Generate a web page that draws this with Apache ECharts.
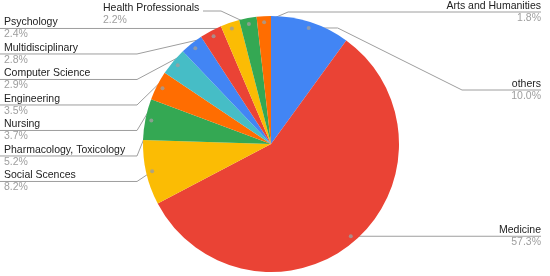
<!DOCTYPE html>
<html>
<head>
<meta charset="utf-8">
<script src="https://cdn.jsdelivr.net/npm/echarts@6/dist/echarts.min.js"></script>
<style>
  html, body { margin: 0; background: #fff; }
  #chart { width: 550px; height: 276px; }
</style>
</head>
<body>
<div id="chart"></div>
<script>
const categories = ['others', 'Medicine', 'Social Scences', 'Pharmacology, Toxicology', 'Nursing', 'Engineering',
  'Computer Science', 'Multidisciplinary', 'Psychology', 'Health Professionals', 'Arts and Humanities']
const shares = [10.0, 57.3, 8.2, 5.2, 3.7, 3.5, 2.9, 2.8, 2.4, 2.2, 1.8]
const palette = ['#4285f4', '#ea4335', '#fbbc04', '#34a853', '#ff6d01', '#46bdc6',
  '#4285f4', '#ea4335', '#fbbc04', '#34a853', '#ff6d01']

// pie geometry
const CX = 271, CY = 144, R = 128, DOT = 0.953
const FONT = 'Arial, "Liberation Sans", sans-serif'

// mid point of every slice (in share units), used for the leader dots
const mids = []
let acc = 0
shares.forEach(v => { mids.push(acc + v / 2); acc += v })
const total = acc

function dotAt(i) {
  const a = mids[i] / total * Math.PI * 2
  return [CX + R * DOT * Math.sin(a), CY - R * DOT * Math.cos(a)]
}

// leader lines, google-sheets style
const ROW = 25.5, LEFT_X = 4, RIGHT_X = 541, ELBOW_L = CX - R - 6
const guides = {}
let prevY = -Infinity
for (let i = shares.length - 3; i >= 2; i--) {   // left column, stacked top to bottom
  const d = dotAt(i)
  const ly = Math.max(d[1], prevY + ROW)
  prevY = ly
  guides[i] = { x: LEFT_X, y: ly, align: 'left', points: [d, [ELBOW_L, ly], [0, ly]] }
}
{
  const d = dotAt(1)
  guides[1] = { x: RIGHT_X, y: d[1], align: 'right', points: [d, [RIGHT_X, d[1]]] }
}
{
  const d = dotAt(0), ly = 90
  guides[0] = { x: RIGHT_X, y: ly, align: 'right', points: [d, [d[0] + 29, d[1]], [462, ly], [RIGHT_X, ly]] }
}
{
  const i = shares.length - 1, d = dotAt(i), ly = 12
  guides[i] = { x: RIGHT_X, y: ly, align: 'right', points: [d, [d[0] + 24, ly], [RIGHT_X, ly]] }
}
{
  const i = shares.length - 2, d = dotAt(i)
  guides[i] = { x: 103, y: 14, align: 'left', points: [d, [221, 11], [203, 11]] }
}

const chart = echarts.init(document.getElementById('chart'))
chart.setOption({
  animation: false,
  textStyle: { fontFamily: FONT },
  polar: { center: [CX, CY], radius: R },
  angleAxis: { type: 'value', min: 0, max: total, startAngle: 90, clockwise: true, show: false },
  radiusAxis: { type: 'value', min: 0, max: 1, show: false },
  series: [
    {
      type: 'pie',
      center: [CX, CY],
      radius: R,
      startAngle: 90,
      clockwise: true,
      data: categories.map((name, i) => ({
        name,
        value: shares[i],
        itemStyle: { color: palette[i] },
      })),
      label: {
        position: 'outside',
        width: 180,
        overflow: 'none',
        formatter: p => `{n|${p.name}}\n{p|${p.value.toFixed(1)}%}`,
        rich: {
          n: { fontSize: 10.5, color: '#222', lineHeight: 12, fontFamily: FONT },
          p: { fontSize: 10.5, color: '#9e9e9e', lineHeight: 12, fontFamily: FONT },
        },
      },
      labelLine: { show: true, length: 10, length2: 10, lineStyle: { color: '#9e9e9e', width: 1 } },
      labelLayout: params => {
        const g = guides[params.dataIndex]
        return { x: g.x, y: g.y, align: g.align, verticalAlign: 'middle', labelLinePoints: g.points }
      },
      emphasis: { disabled: true },
    },
    {
      type: 'scatter',
      coordinateSystem: 'polar',
      data: mids.map(m => [DOT, m]),
      symbolSize: 4,
      itemStyle: { color: '#9e9e9e' },
      z: 5,
      silent: true,
    },
  ],
})
</script>
</body>
</html>
